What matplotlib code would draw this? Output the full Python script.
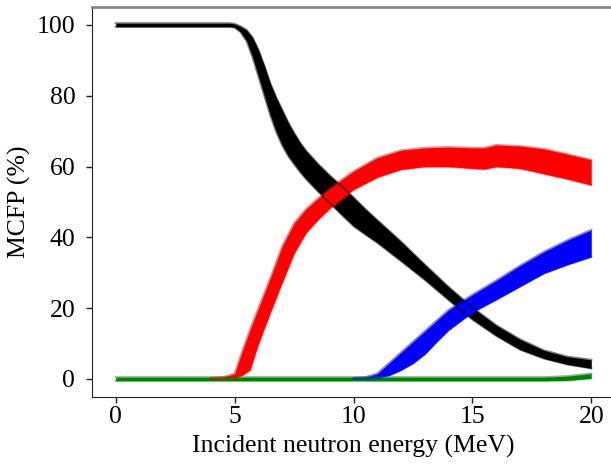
import matplotlib.pyplot as plt

plt.rcParams["font.family"] = ["Liberation Serif", "DejaVu Serif"]

# Band edges (upper / lower), in %
black_e = [0, 4.8, 5.0, 5.25, 5.5, 5.75, 6.0, 6.25, 6.5, 6.75, 7.0, 7.25, 7.5, 7.75, 8.0,
           8.5, 9.0, 9.5, 10.0, 10.5, 11.0, 12.0, 13.0, 14.0, 15.0, 16.0, 17.0, 18.0,
           19.0, 20.0]
black_hi = [100.5, 100.5, 100.3, 99.6, 98.6, 96.5, 93, 88.5, 83.5, 79.5, 76, 72.5, 69.5,
            66.8, 64.5, 60.8, 57.5, 54.5, 51.3, 48, 44.9, 38.8, 32.3, 26, 20.2, 15.2,
            11.2, 8.1, 6.3, 5.4]
black_lo = [99.5, 99.5, 99.3, 98, 95.5, 91, 85.5, 80, 74.5, 69.8, 66, 63, 60.7, 58.5, 56.5,
            53, 49.7, 46.4, 43.2, 40.8, 38.5, 33.3, 28, 22.3, 16.8, 12.2, 8.3, 5.8,
            4.1, 3.0]

red_e = [4.0, 4.5, 5.0, 5.3, 5.64, 6.0, 6.5, 7.0, 7.5, 8.0, 8.5, 9.0, 9.5, 10.0,
         11.0, 12.0, 13.0, 14.0, 15.0, 15.5, 16.0, 17.0, 18.0, 19.0, 20.0]
red_hi = [0.3, 0.5, 1.5, 7.5, 13.8, 20, 28.5, 37.5, 44, 48, 51, 53.8, 56.3, 58.7,
          62.5, 64.6, 65.3, 65.5, 65.3, 65.3, 66.1, 65.8, 65, 63.5, 61.9]
red_lo = [0, 0, 0.3, 1, 2.5, 10, 18.8, 27.3, 35.5, 41.3, 45, 48.2, 51, 53.5,
          57, 59.2, 60, 60, 59.5, 59.3, 60, 59.5, 58, 56.5, 54.8]

blue_e = [10.0, 10.5, 11.0, 11.5, 12.0, 12.5, 13.0, 13.5, 14.0, 15.0, 16.0, 17.0, 18.0, 19.0, 20.0]
blue_hi = [0.3, 0.5, 1.5, 4.5, 7.5, 10.5, 13.5, 16.5, 19.5, 23.8, 27.8, 32, 35.9, 39.2, 42.1]
blue_lo = [0, 0, 0.3, 1, 2.5, 4.4, 7, 10.5, 13.8, 18.8, 22.4, 26.1, 29.8, 32.3, 34.5]

green_e = [0, 18.0, 19.0, 20.0]
green_hi = [0.5, 0.5, 0.8, 1.5]
green_lo = [-0.5, -0.5, -0.4, 0.2]

bands = [
    (black_e, black_hi, black_lo, "black"),
    (red_e, red_hi, red_lo, "red"),
    (blue_e, blue_hi, blue_lo, "blue"),
    (green_e, green_hi, green_lo, "green"),
]

fig = plt.figure(figsize=(6.11, 4.68), dpi=100)
ax = fig.add_axes([0.1506, 0.1524, 0.856, 0.832])

for e, hi, lo, c in bands:
    ax.fill_between(e, lo, hi, color=c, lw=0)
    # soft edges, like many overlaid samples
    ax.plot(e, hi, color=c, lw=1.5, alpha=0.5, solid_joinstyle="round")
    ax.plot(e, lo, color=c, lw=1.5, alpha=0.5, solid_joinstyle="round")

ax.set_xlim(-1, 21)
ax.set_ylim(-5, 105)
ax.set_xticks([0, 5, 10, 15, 20])
ax.set_yticks([0, 20, 40, 60, 80, 100])
ax.tick_params(labelsize=18.5, length=4, width=1, colors="#222222", labelcolor="black")
ax.tick_params(axis="x", pad=2.5)
ax.tick_params(axis="y", pad=8)
ax.spines["top"].set_color("#888888")
ax.spines["top"].set_linewidth(2)
ax.spines["right"].set_visible(False)
ax.spines["left"].set_color("#222222")
ax.spines["bottom"].set_color("#222222")

ax.set_xlabel("Incident neutron energy (MeV)", fontsize=18.5, labelpad=5)
ax.set_ylabel("MCFP (%)", fontsize=18.5, labelpad=4)

fig.savefig("out.png", dpi=100)
